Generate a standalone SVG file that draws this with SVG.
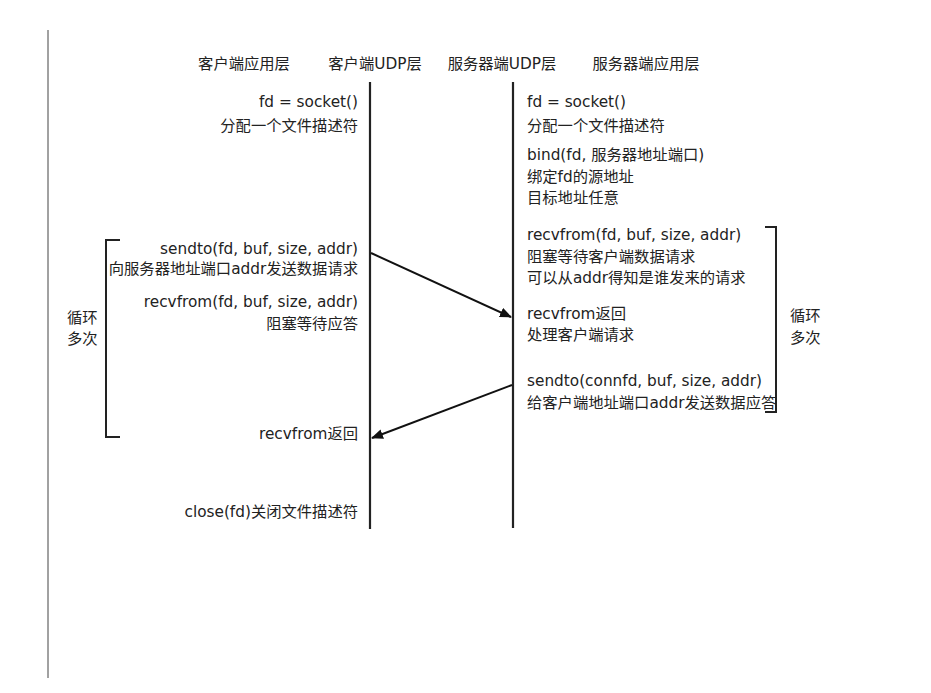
<svg xmlns="http://www.w3.org/2000/svg" width="931" height="693" viewBox="0 0 931 693">
<style>
text{font-family:"DejaVu Sans","Noto Sans CJK SC",sans-serif;font-size:15.3px;fill:#222}
.r{text-anchor:end}
.life{stroke:#222;stroke-width:2.2;fill:none}
.br{stroke:#222;stroke-width:2;fill:none}
.msg{stroke:#111;stroke-width:2;fill:none;marker-end:url(#ah)}
</style>
<defs>
<marker id="ah" viewBox="0 0 12 10" refX="11" refY="5" markerWidth="12" markerHeight="10" markerUnits="userSpaceOnUse" orient="auto">
<path d="M0,0 L12,5 L0,10 Z" fill="#111"/>
</marker>
</defs>
<rect width="931" height="693" fill="#fff"/>
<line x1="48" y1="30" x2="48" y2="678" stroke="#444" stroke-width="1"/>
<g id="headers">
<text x="244" y="69" text-anchor="middle">客户端应用层</text>
<text x="375" y="69" text-anchor="middle">客户端UDP层</text>
<text x="502" y="69" text-anchor="middle">服务器端UDP层</text>
<text x="646" y="69" text-anchor="middle">服务器端应用层</text>
</g>
<g id="client-udp"><line class="life" x1="370" y1="82" x2="370" y2="529"/></g>
<g id="server-udp"><line class="life" x1="513" y1="82" x2="513" y2="528"/></g>
<g id="client-app">
<text class="r" x="358" y="107">fd = socket()</text>
<text class="r" x="358" y="131">分配一个文件描述符</text>
<text class="r" x="358" y="254">sendto(fd, buf, size, addr)</text>
<text class="r" x="358" y="274">向服务器地址端口addr发送数据请求</text>
<text class="r" x="358" y="307">recvfrom(fd, buf, size, addr)</text>
<text class="r" x="358" y="329">阻塞等待应答</text>
<text class="r" x="358" y="439">recvfrom返回</text>
<text class="r" x="358" y="517">close(fd)关闭文件描述符</text>
</g>
<g id="client-loop">
<path class="br" d="M120,240 H106 V437 H120"/>
<text x="67" y="323">循环</text>
<text x="67" y="344">多次</text>
</g>
<g id="server-app">
<text x="527" y="107">fd = socket()</text>
<text x="527" y="131">分配一个文件描述符</text>
<text x="527" y="160">bind(fd, 服务器地址端口)</text>
<text x="527" y="182">绑定fd的源地址</text>
<text x="527" y="203">目标地址任意</text>
<text x="527" y="240">recvfrom(fd, buf, size, addr)</text>
<text x="527" y="262">阻塞等待客户端数据请求</text>
<text x="527" y="283">可以从addr得知是谁发来的请求</text>
<text x="527" y="319">recvfrom返回</text>
<text x="527" y="340">处理客户端请求</text>
<text x="527" y="386">sendto(connfd, buf, size, addr)</text>
<text x="527" y="408">给客户端地址端口addr发送数据应答</text>
</g>
<g id="server-loop">
<path class="br" d="M765,227 H776 V412 H765"/>
<text x="790" y="321">循环</text>
<text x="790" y="343">多次</text>
</g>
<g id="connectors">
<line class="msg" x1="371" y1="253" x2="511" y2="317"/>
<line class="msg" x1="512" y1="385" x2="372" y2="438"/>
</g>
</svg>
